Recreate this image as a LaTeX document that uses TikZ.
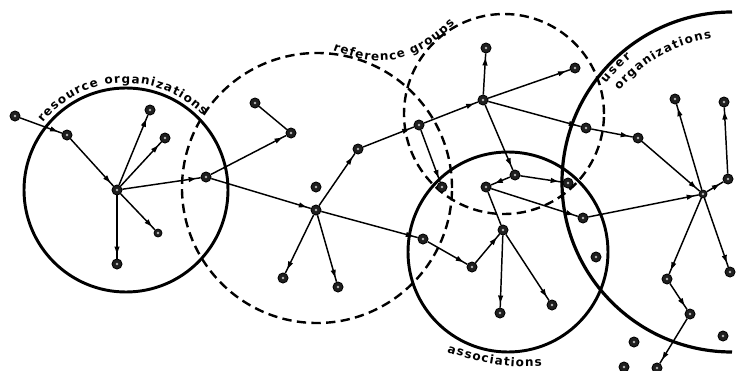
\documentclass[tikz,border=0pt]{standalone}
\usepackage{fontspec}
\setmainfont{DejaVu Sans}
\usetikzlibrary{decorations.text,decorations.markings,arrows.meta}
\newcommand\lblfont{\fontsize{9}{10}\selectfont\bfseries}
\begin{document}
\begin{tikzpicture}[x=0.75pt,y=0.75pt,
  nd/.style={circle,fill=black!88,draw=black,line width=0.6pt,inner sep=0pt,minimum size=7.6pt,
     path picture={\fill[gray!55] (path picture bounding box.center) circle (1pt);}},
  hubnd/.style={nd,minimum size=6pt},
  ln/.style={line width=1.1pt},
  ar/.style={ln,postaction={decorate},decoration={markings,mark=at position -3.5pt with {\arrow{Triangle[length=5.5pt,width=3.6pt]}}}},
  solidring/.style={line width=2.2pt},
  dashring/.style={line width=1.8pt,dash pattern=on 7pt off 4pt},
  curvedlabel/.style={decorate,decoration={text along path,text align={fit to path},text={|\lblfont|#1}}}
]
\clip (0,0) rectangle (747,-371);
\fill[white] (0,0) rectangle (747,-371);

% rings
\draw[solidring] (126,-190) circle (102);
\draw[dashring] (317,-188) circle (135);
\draw[dashring] (504,-114) circle (100);
\draw[solidring] (508,-252) circle (100);
\draw[line width=2.4pt] (732,-12) arc[start angle=90,end angle=270,radius=170];

% ring labels
\path[curvedlabel={resource organizations}] ([shift={(141:107)}]126,-190) arc[start angle=141,end angle=44,radius=107];
\path[curvedlabel={reference groups}] (333,-50) .. controls (380,-68) and (410,-66) .. (455,-24);
\path[curvedlabel={user}] ([shift={(142:160)}]732,-182) arc[start angle=142,end angle=129,radius=160];
\path[curvedlabel={organizations}] ([shift={(141:145)}]732,-182) arc[start angle=141,end angle=98,radius=145];
\path[curvedlabel={associations}] (447,-352) .. controls (475,-362) and (510,-369) .. (542,-366);

% nodes
\node[nd] (a1) at (15,-116) {};
\node[nd] (a2) at (67,-135) {};
\node[nd] (a3) at (117,-190) {};
\node[nd] (a4) at (150,-110) {};
\node[nd] (a5) at (165,-138) {};
\node[nd,minimum size=6pt] (a6) at (158,-233) {};
\node[nd] (a7) at (117,-264) {};
\node[nd] (a8) at (206,-177) {};
\node[nd] (b1) at (255,-103) {};
\node[nd] (b2) at (291,-133) {};
\node[nd] (b3) at (316,-187) {};
\node[nd] (b4) at (316,-210) {};
\node[nd] (b5) at (358,-149) {};
\node[nd] (b6) at (419,-125) {};
\node[nd] (b7) at (283,-278) {};
\node[nd] (b8) at (338,-287) {};
\node[nd] (b9) at (423,-239) {};
\node[nd] (d1) at (442,-187) {};
\node[nd] (c1) at (483,-100) {};
\node[nd] (c2) at (486,-48) {};
\node[nd] (c3) at (575,-68) {};
\node[nd] (c4) at (586,-128) {};
\node[nd] (c5) at (638,-138) {};
\node[nd] (c6) at (515,-175) {};
\node[nd] (c7) at (486,-187) {};
\node[nd] (c8) at (568,-183) {};
\node[nd] (c9) at (583,-218) {};
\node[nd] (c10) at (503,-230) {};
\node[nd] (c11) at (472,-267) {};
\node[nd] (c12) at (500,-313) {};
\node[nd] (c13) at (552,-305) {};
\node[nd] (c14) at (596,-257) {};
\node[hubnd] (d2) at (703,-194) {};
\node[nd] (d3) at (675,-99) {};
\node[nd] (d4) at (724,-102) {};
\node[nd] (d5) at (728,-179) {};
\node[nd] (d6) at (730,-272) {};
\node[nd] (d7) at (667,-279) {};
\node[nd] (d8) at (690,-314) {};
\node[nd] (d9) at (657,-368) {};
\node[nd] (d11) at (634,-342) {};
\node[nd] (d12) at (624,-367) {};
\node[nd] (d13) at (723,-336) {};

% connectors
\draw[ar] (a1) -- (a2);
\draw[ar] (a2) -- (a3);
\draw[ar] (a3) -- (a4);
\draw[ar] (a3) -- (a5);
\draw[ar] (a3) -- (a6);
\draw[ar] (a3) -- (a7);
\draw[ar] (a3) -- (a8);
\draw[ar] (a8) -- (b2);
\draw[ln] (b1) -- (b2);
\draw[ar] (a8) -- (b4);
\draw[ar] (b4) -- (b5);
\draw[ar] (b5) -- (b6);
\draw[ar] (b4) -- (b7);
\draw[ar] (b4) -- (b8);
\draw[ar] (b4) -- (b9);
\draw[ar] (b6) -- (c1);
\draw[ar] (b6) -- (d1);
\draw[ar] (c1) -- (c2);
\draw[ar] (c1) -- (c3);
\draw[ar] (c1) -- (c4);
\draw[ar] (c4) -- (c5);
\draw[ar] (c1) -- (c6);
\draw[ar] (c6) -- (c7);
\draw[ar] (c6) -- (c8);
\draw[ar] (c7) -- (c9);
\draw[ln] (c7) -- (c10);
\draw[ar] (b9) -- (c11);
\draw[ar] (c11) -- (c10);
\draw[ar] (c10) -- (c12);
\draw[ar] (c10) -- (c13);
\draw[ar] (c9) -- (d2);
\draw[ar] (c5) -- (d2);
\draw[ar] (d2) -- (d3);
\draw[ar] (d2) -- (d5);
\draw[ar] (d5) -- (d4);
\draw[ar] (d2) -- (d6);
\draw[ar] (d2) -- (d7);
\draw[ar] (d7) -- (d8);
\draw[ar] (d8) -- (d9);
\end{tikzpicture}
\end{document}
